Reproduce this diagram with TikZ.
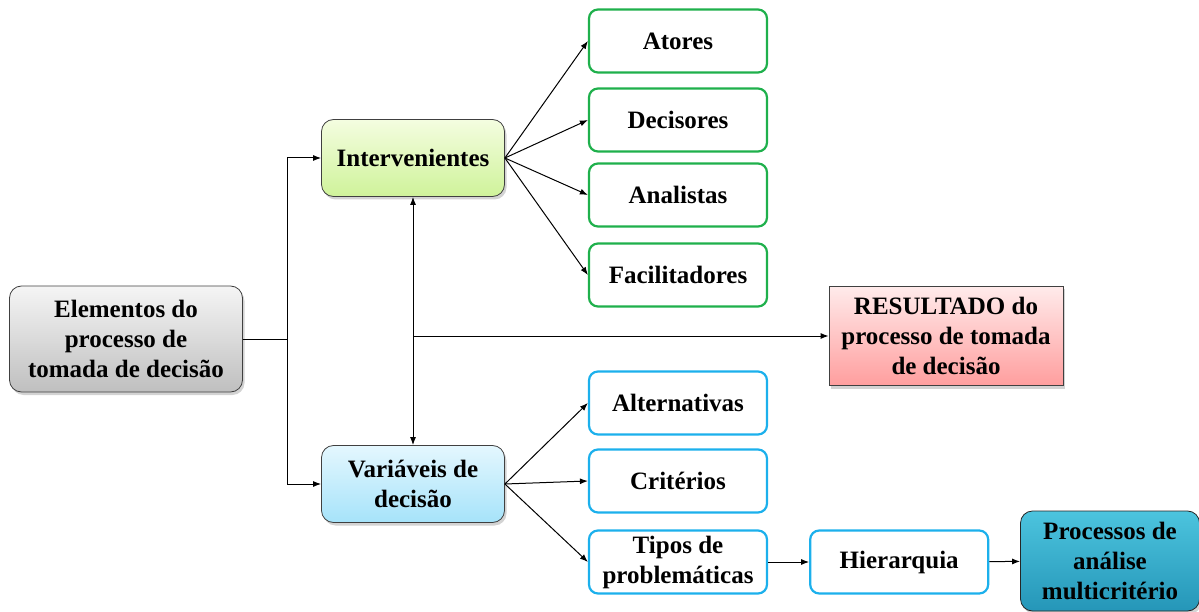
\documentclass[tikz,border=0pt]{standalone}
\usepackage{fontspec}
\setmainfont{Liberation Serif}
\usepackage{xcolor}
\usetikzlibrary{positioning, arrows.meta, shadows}

\definecolor{grnline}{HTML}{1FB04C}
\definecolor{bluline}{HTML}{1CB0EC}
\definecolor{grntop}{HTML}{F4FDE0}
\definecolor{grnbot}{HTML}{CFF39A}
\definecolor{blutop}{HTML}{E4F7FE}
\definecolor{blubot}{HTML}{A6E3FA}
\definecolor{tealtop}{HTML}{4CC4DE}
\definecolor{tealbot}{HTML}{2596B8}

\begin{document}
\begin{tikzpicture}[
    x=1pt, y=-1pt,
    txt/.style={align=center, inner sep=0pt, font=\fontsize{25}{30}\selectfont\bfseries},
    mainbox/.style={txt, draw=black!75, line width=0.8pt, rounded corners=12pt,
        drop shadow={shadow xshift=2pt, shadow yshift=-3pt, opacity=0.35}},
    greybox/.style={mainbox, top color=gray!8, bottom color=gray!50, minimum width=233pt, minimum height=106pt},
    actorbox/.style={mainbox, top color=grntop, bottom color=grnbot, minimum width=183pt, minimum height=77pt},
    varbox/.style={mainbox, top color=blutop, bottom color=blubot, minimum width=183pt, minimum height=77pt},
    greenbox/.style={txt, draw=grnline, line width=2.2pt, rounded corners=9pt, fill=white, minimum width=178pt, minimum height=63pt},
    bluebox/.style={txt, draw=bluline, line width=2.2pt, rounded corners=9pt, fill=white, minimum width=178pt, minimum height=63pt},
    resultbox/.style={txt, draw=black!75, line width=0.8pt, top color=red!8, bottom color=red!38,
        minimum width=234pt, minimum height=99pt, drop shadow={shadow xshift=2pt, shadow yshift=-3pt, opacity=0.35}},
    finalbox/.style={mainbox, draw=black!85, top color=tealtop, bottom color=tealbot, minimum width=179pt, minimum height=100pt},
    arr/.style={-{Latex[length=8pt, width=6pt]}, line width=1pt},
    twoarr/.style={{Latex[length=8pt, width=6pt]}-{Latex[length=8pt, width=6pt]}, line width=1pt}
]
\useasboundingbox (0,0) rectangle (1199,612);

% Main boxes
\node[greybox] (elem) at (126,339) {Elementos do\\processo de\\tomada de decisão};
\node[actorbox] (interv) at (413,158) {Intervenientes};
\node[varbox] (vars) at (413,484) {Variáveis de\\decisão};
\node[resultbox] (res) at (946,336) {RESULTADO do\\processo de tomada\\de decisão};

% Intervenientes
\node[greenbox] (atores) at (678,41) {Atores};
\node[greenbox] (decis) at (678,120) {Decisores};
\node[greenbox] (anal) at (678,195) {Analistas};
\node[greenbox] (facil) at (678,275) {Facilitadores};

% Variaveis de decisao
\node[bluebox] (alter) at (678,403) {Alternativas};
\node[bluebox] (crit) at (678,481) {Critérios};
\node[bluebox] (tipos) at (678,562) {Tipos de\\problemáticas};
\node[bluebox, right=41pt of tipos] (hier) {Hierarquia};
\node[finalbox] (proc) at (1110,561) {Processos de\\análise\\multicritério};

% Connectors
\coordinate (split) at (287,339);
\draw[line width=1pt] (elem.east) -- (split);
\draw[arr] (split) |- (interv.west);
\draw[arr] (split) |- (vars.west);
\draw[twoarr] (interv.south) -- (vars.north);
\coordinate (mid) at (interv.south |- res.west);
\draw[arr] (mid) -- (res.west);

\foreach \t in {atores, decis, anal, facil}
    \draw[arr] (interv.east) -- (\t.west);
\foreach \t in {alter, crit, tipos}
    \draw[arr] (vars.east) -- (\t.west);

\draw[arr] (tipos) -- (hier);
\draw[arr] (hier) -- (proc);

\end{tikzpicture}
\end{document}
